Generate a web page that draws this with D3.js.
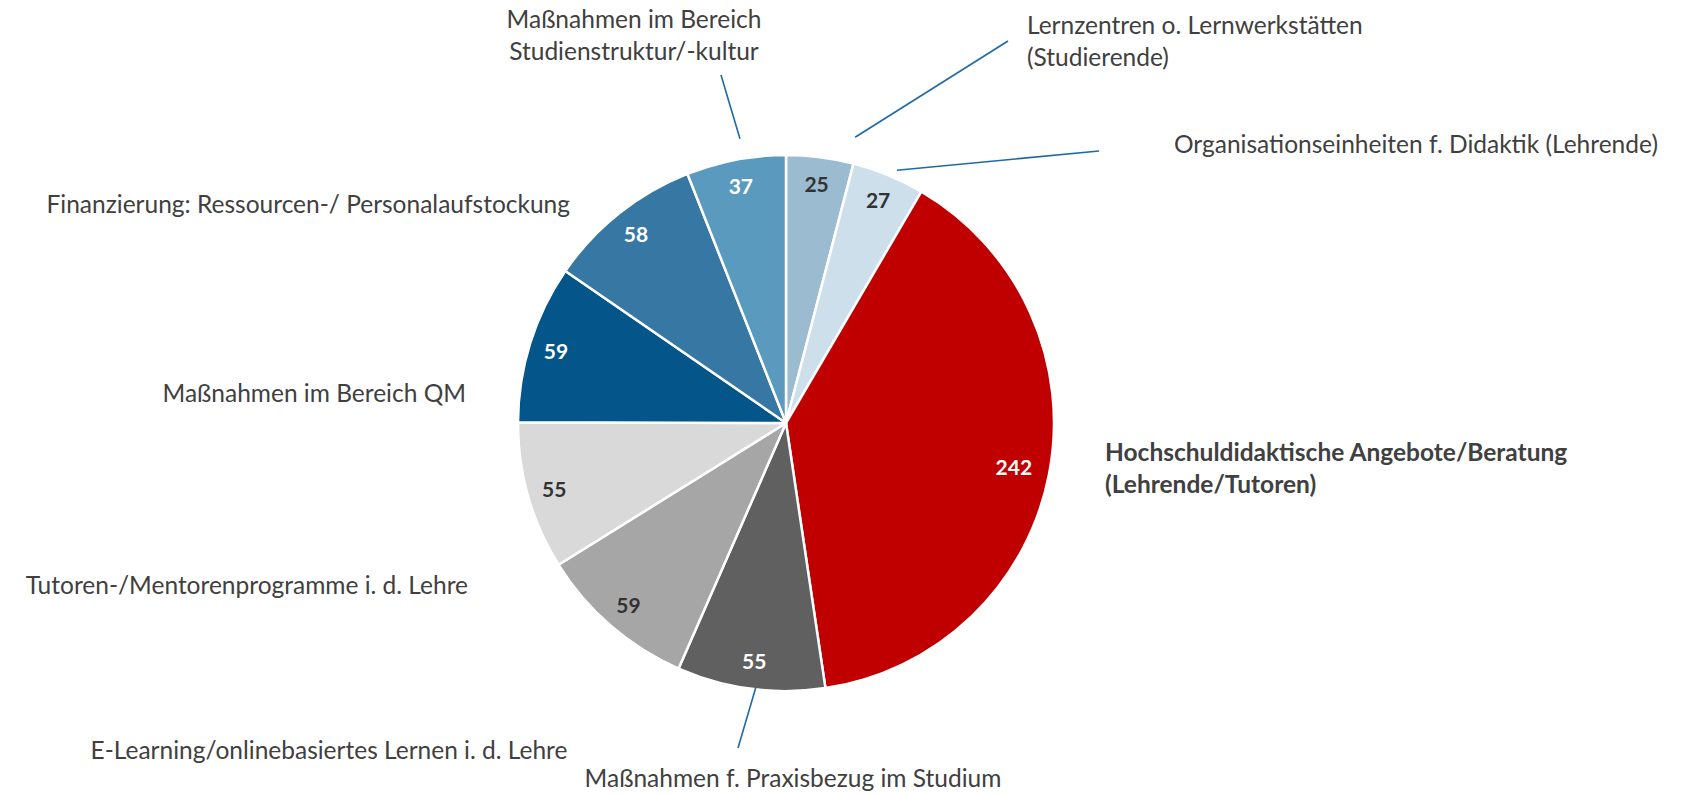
<!DOCTYPE html>
<html>
<head>
<meta charset="utf-8">
<script src="https://cdn.jsdelivr.net/npm/d3@7"></script>
<style>
  body { margin: 0; background: #fff; }
  svg { display: block; font-family: Lato, "Open Sans", sans-serif; }
  .slice-label { font-weight: bold; font-size: 21px; }
  .cat-label { font-size: 24.5px; fill: #404040; }
</style>
</head>
<body>
<svg id="chart"></svg>
<script>
// Data, clockwise from 12 o'clock
const categories = [
  'Lernzentren o. Lernwerkstätten (Studierende)',
  'Organisationseinheiten f. Didaktik (Lehrende)',
  'Hochschuldidaktische Angebote/Beratung (Lehrende/Tutoren)',
  'Maßnahmen f. Praxisbezug im Studium',
  'E-Learning/onlinebasiertes Lernen i. d. Lehre',
  'Tutoren-/Mentorenprogramme i. d. Lehre',
  'Maßnahmen im Bereich QM',
  'Finanzierung: Ressourcen-/ Personalaufstockung',
  'Maßnahmen im Bereich Studienstruktur/-kultur'
];
const values = [25, 27, 242, 55, 59, 55, 59, 58, 37];
const labelLines = [
  ['Lernzentren o. Lernwerkstätten', '(Studierende)'],
  ['Organisationseinheiten f. Didaktik (Lehrende)'],
  ['Hochschuldidaktische Angebote/Beratung', '(Lehrende/Tutoren)'],
  ['Maßnahmen f. Praxisbezug im Studium'],
  ['E-Learning/onlinebasiertes Lernen i. d. Lehre'],
  ['Tutoren-/Mentorenprogramme i. d. Lehre'],
  ['Maßnahmen im Bereich QM'],
  ['Finanzierung: Ressourcen-/ Personalaufstockung'],
  ['Maßnahmen im Bereich', 'Studienstruktur/-kultur']
];

const colors = ['#9bbbd1', '#cddfeb', '#c00000', '#606060', '#a6a6a6',
                '#d9d9d9', '#03558a', '#3677a3', '#5b9abf'];
const valueColors = ['#333', '#333', '#fff', '#fff', '#333', '#333', '#fff', '#fff', '#fff'];

const width = 1682, height = 794;
const cx = 786, cy = 423, radius = 268;

// where each category label sits (x, y of first line centre) and its leader
const labelLayout = [
  {x: 1027, y: 25, anchor: 'start', leader: {a: 13.6, r: 294, x: 1008, y: 41}},
  {x: 1174, y: 144, anchor: 'start', leader: {a: 23.7, r: 276, x: 1099, y: 151}},
  {x: 1105, y: 452, anchor: 'start', bold: true},
  {x: 793, y: 778, anchor: 'middle', leader: {a: 186.5, r: 266, x: 738, y: 748}},
  {x: 329, y: 750, anchor: 'middle'},
  {x: 468, y: 585, anchor: 'end'},
  {x: 466, y: 393, anchor: 'end'},
  {x: 570, y: 204, anchor: 'end'},
  {x: 634, y: 19, anchor: 'middle', leader: {a: 350.8, r: 288, x: 721, y: 75}}
];
const lineHeight = 32;

const svg = d3.select('#chart')
    .attr('width', width)
    .attr('height', height);

const g = svg.append('g')
    .attr('transform', `translate(${cx},${cy})`);

const pie = d3.pie().sort(null).value(d => d.value);
const data = categories.map((c, i) => ({category: c, value: values[i], i: i}));
const arcs = pie(data);

const arc = d3.arc().innerRadius(0).outerRadius(radius);
const labelArc = d3.arc().innerRadius(241).outerRadius(241);
const bigLabelArc = d3.arc().innerRadius(232).outerRadius(232);

g.selectAll('path.slice')
  .data(arcs)
  .join('path')
    .attr('class', 'slice')
    .attr('d', arc)
    .attr('fill', d => colors[d.data.i])
    .attr('stroke', '#fff')
    .attr('stroke-width', 2.5)
    .attr('stroke-linejoin', 'round');

g.selectAll('text.slice-label')
  .data(arcs)
  .join('text')
    .attr('class', 'slice-label')
    .attr('transform', d => `translate(${(d.data.value > 200 ? bigLabelArc : labelArc).centroid(d)})`)
    .attr('text-anchor', 'middle')
    .attr('dy', '0.36em')
    .attr('fill', d => valueColors[d.data.i])
    .text(d => d.data.value);

// leader lines
const polar = (a, r) => {
  const rad = a * Math.PI / 180;
  return [cx + r * Math.sin(rad), cy - r * Math.cos(rad)];
};
svg.selectAll('line.leader')
  .data(labelLayout.filter(d => d.leader))
  .join('line')
    .attr('class', 'leader')
    .attr('x1', d => polar(d.leader.a, d.leader.r)[0])
    .attr('y1', d => polar(d.leader.a, d.leader.r)[1])
    .attr('x2', d => d.leader.x)
    .attr('y2', d => d.leader.y)
    .attr('stroke', '#1f6aa5')
    .attr('stroke-width', 1.6);

// category labels
const catLabels = svg.selectAll('text.cat-label')
  .data(labelLines)
  .join('text')
    .attr('class', 'cat-label')
    .attr('text-anchor', (d, i) => labelLayout[i].anchor)
    .attr('font-weight', (d, i) => labelLayout[i].bold ? 'bold' : null);

catLabels.selectAll('tspan')
  .data((d, i) => d.map((line, j) => ({line, j, i})))
  .join('tspan')
    .attr('x', d => labelLayout[d.i].x)
    .attr('y', d => labelLayout[d.i].y + d.j * lineHeight)
    .attr('dy', '0.35em')
    .text(d => d.line);
</script>
</body>
</html>
